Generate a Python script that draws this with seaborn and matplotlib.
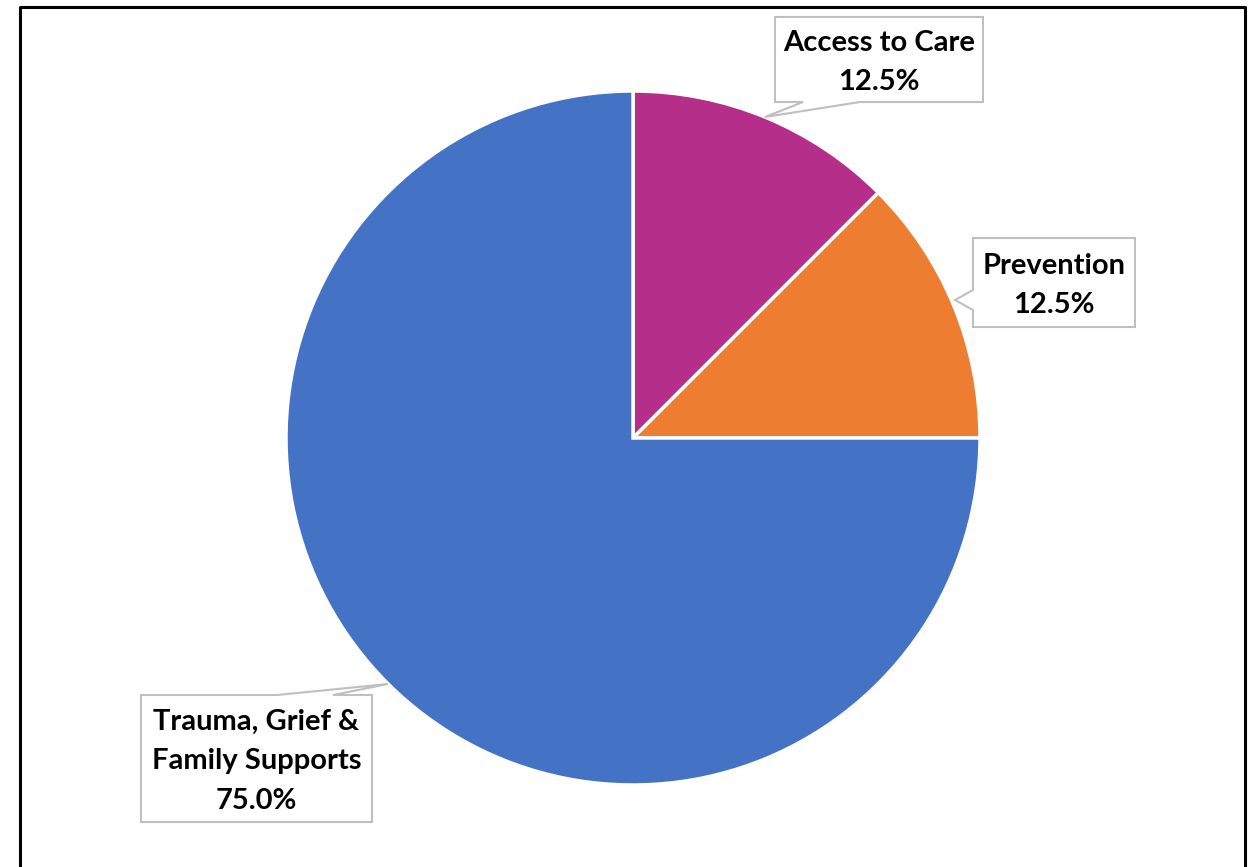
import numpy as np
import matplotlib.pyplot as plt
import seaborn as sns
from matplotlib.patches import Polygon

sns.set_theme(style="white")
plt.rcParams['font.family'] = ['Lato', 'DejaVu Sans']

# Data
categories = ['Access to Care', 'Prevention', 'Trauma, Grief &\nFamily Supports']
shares = [12.5, 12.5, 75.0]
colors = ['#B42E8A', '#ED7D31', '#4472C4']

W, H = 1250, 867
fig = plt.figure(figsize=(12.5, 8.67), dpi=100)
ax = fig.add_axes([0, 0, 1, 1])

# pie, centre and radius in pixels (y measured from top)
cx, cy, r = 633, 438, 347
ax.pie(shares, colors=colors, startangle=90, counterclock=False,
       center=(cx, H - cy), radius=r, frame=True,
       wedgeprops=dict(edgecolor='white', linewidth=2.5))
ax.set_xlim(0, W)
ax.set_ylim(0, H)
ax.set_aspect('equal')
ax.axis('off')

# callout boxes: (box left, top, right, bottom), pointer base pts, tip (pixel coords, y from top)
callouts = [
    dict(box=(775, 17, 983, 102), side='bottom', base=(803, 860), tip=(765, 117)),
    dict(box=(973, 238, 1135, 327), side='left', base=(290, 310), tip=(955, 300)),
    dict(box=(141, 695, 372, 822), side='top', base=(333, 277), tip=(388, 684)),
]

for cat, val, c in zip(categories, shares, callouts):
    x0, y0, x1, y1 = c['box']
    b0, b1 = c['base']
    tx, ty = c['tip']
    if c['side'] == 'bottom':
        pts = [(x0, y0), (x1, y0), (x1, y1), (b1, y1), (tx, ty), (b0, y1), (x0, y1)]
    elif c['side'] == 'left':
        pts = [(x0, y0), (x1, y0), (x1, y1), (x0, y1), (x0, b1), (tx, ty), (x0, b0)]
    else:
        pts = [(x0, y0), (b1, y0), (tx, ty), (b0, y0), (x1, y0), (x1, y1), (x0, y1)]
    pts = [(px, H - py) for px, py in pts]
    ax.add_patch(Polygon(pts, closed=True, facecolor='white', edgecolor='#BFBFBF',
                         linewidth=1.5, zorder=5))
    ax.text((x0 + x1) / 2, H - (y0 + y1) / 2 - 3, f"{cat}\n{val:.1f}%", ha='center', va='center',
            fontsize=21, fontweight='bold', color='black', linespacing=1.63, zorder=6)

# outer frame (left, top, right)
fx0, fx1, fy = 20 / W, 1245 / W, 1 - 7 / H
fig.add_artist(plt.Line2D([fx0, fx0, fx1, fx1], [0, fy, fy, 0], color='black', linewidth=2.2))

fig.savefig('out.png', dpi=100, facecolor='white')
